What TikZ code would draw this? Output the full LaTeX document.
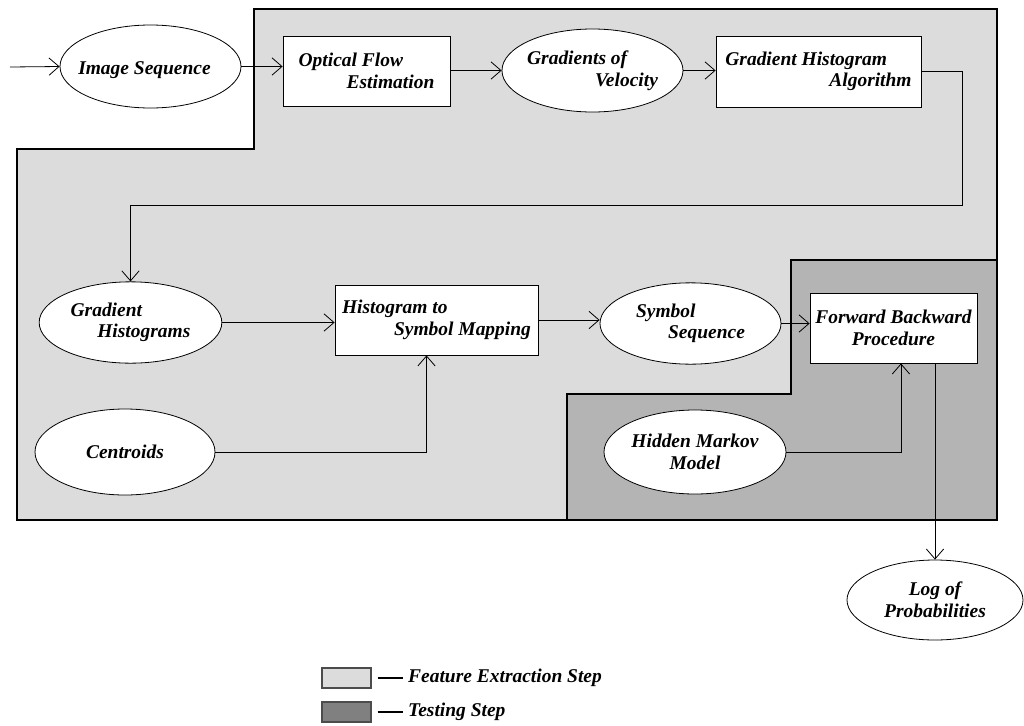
\documentclass[tikz,border=0pt]{standalone}
\usepackage{fontspec}
\setmainfont{Liberation Serif}
\usetikzlibrary{shapes.geometric,arrows.meta,calc}
\definecolor{lightbg}{HTML}{DCDCDC}
\definecolor{darkbg}{HTML}{B4B4B4}
\definecolor{legdark}{HTML}{808080}
\begin{document}
\begin{tikzpicture}[x=0.75pt,y=-0.75pt,
  lbl/.style={font=\fontsize{14.6}{16.2}\selectfont\bfseries\itshape},
  ellbase/.style={ellipse, draw, fill=white, line width=0.6pt, inner xsep=-30pt, inner ysep=-15pt, lbl},
  ell/.style={ellbase, align=center},
  box/.style={rectangle, draw, fill=white, line width=0.6pt, inner sep=0pt, lbl, align=left},
  conn/.style={line width=0.6pt, -{Straight Barb[length=7.5pt,width=13pt]}},
  region/.style={line width=1.9pt, line join=miter},
  legbox/.style={rectangle, draw=black!70, line width=0.8pt, minimum width=36.75pt, minimum height=15pt, inner sep=0pt}
]
\path[use as bounding box] (0,0) rectangle (1024,725);
\fill[white] (0,0) rectangle (1024,725);
% regions
\draw[region, fill=lightbg] (254,9) -- (997,9) -- (997,520) -- (17,520) -- (17,149) -- (254,149) -- cycle;
\draw[region, fill=darkbg] (791,260) -- (997,260) -- (997,520) -- (567,520) -- (567,394) -- (791,394) -- cycle;
% nodes
\node[ellbase, minimum width=135.75pt, minimum height=62.25pt, text height=15pt, text depth=3.2pt] (is) at (150.5,66.5) {Image Sequence\hspace*{9pt}};
\node[box, minimum width=125.25pt, minimum height=52.5pt] (ofe) at (366.5,71) {Optical Flow\\\hspace*{36pt}Estimation};
\node[ell, align=left, minimum width=135.75pt, minimum height=62.25pt] (gov) at (592.5,70.5) {Gradients of\\\hspace*{51pt}Velocity};
\node[box, minimum width=153.75pt, minimum height=53.25pt] (gha) at (818.5,71.5) {Gradient Histogram\\\hspace*{78pt}Algorithm};
\node[ell, align=left, minimum width=137pt, minimum height=61pt] (gh) at (130.5,322.5) {Gradient\\\hspace*{20pt}Histograms};
\node[box, minimum width=152.25pt, minimum height=52.5pt] (hsm) at (436.5,320) {Histogram to\\\hspace*{39pt}Symbol Mapping};
\node[ell, minimum width=135pt, minimum height=64.5pt] (cen) at (125,452) {Centroids};
\node[ell, align=left, minimum width=135.75pt, minimum height=61pt] (ss) at (690.5,323.5) {Symbol\\\hspace*{24pt}Sequence};
\node[box, align=center, minimum width=125.25pt, minimum height=52.5pt] (fbp) at (893.5,328) {Forward Backward\\Procedure};
\node[ell, minimum width=136.5pt, minimum height=63pt] (hmm) at (695,452) {Hidden Markov\\Model};
\node[ell, minimum width=132pt, minimum height=60pt] (lop) at (935,600) {Log of\\Probabilities};
% connectors
\coordinate (in) at (10,67);
\draw[conn] (in) -- (is.west);
\draw[conn] (is.east) -- (is.east -| ofe.west);
\draw[conn] (gov.west -| ofe.east) -- (gov.west);
\draw[conn] (gov.east) -- (gov.east -| gha.west);
\coordinate (t1) at (962,205);
\draw[conn] (gha.east) -| (t1) -| (gh.north);
\draw[conn] (gh.east) -- (gh.east -| hsm.west);
\draw[conn] (cen.east) -| ([xshift=-7.5pt]hsm.south);
\draw[conn] (hsm.east) -- (hsm.east -| ss.west);
\draw[conn] (ss.east) -- (ss.east -| fbp.west);
\draw[conn] (hmm.east) -| ([xshift=5.6pt]fbp.south);
\draw[conn] (fbp.south -| lop.north) -- (lop.north);
% legend
\node[legbox, fill=lightbg] (leg1) at (346.5,678) {};
\node[legbox, fill=legdark] (leg2) at (346.5,712) {};
\draw[line width=1.5pt] ([xshift=4.5pt]leg1.east) -- ++(18.75pt,0) node[right, lbl, inner sep=3.5pt] (t1l) {Feature Extraction Step};
\draw[line width=1.5pt] ([xshift=4.5pt]leg2.east) -- ++(18.75pt,0) node[right, lbl, inner sep=3.5pt] (t2l) {Testing Step};
\end{tikzpicture}
\end{document}
